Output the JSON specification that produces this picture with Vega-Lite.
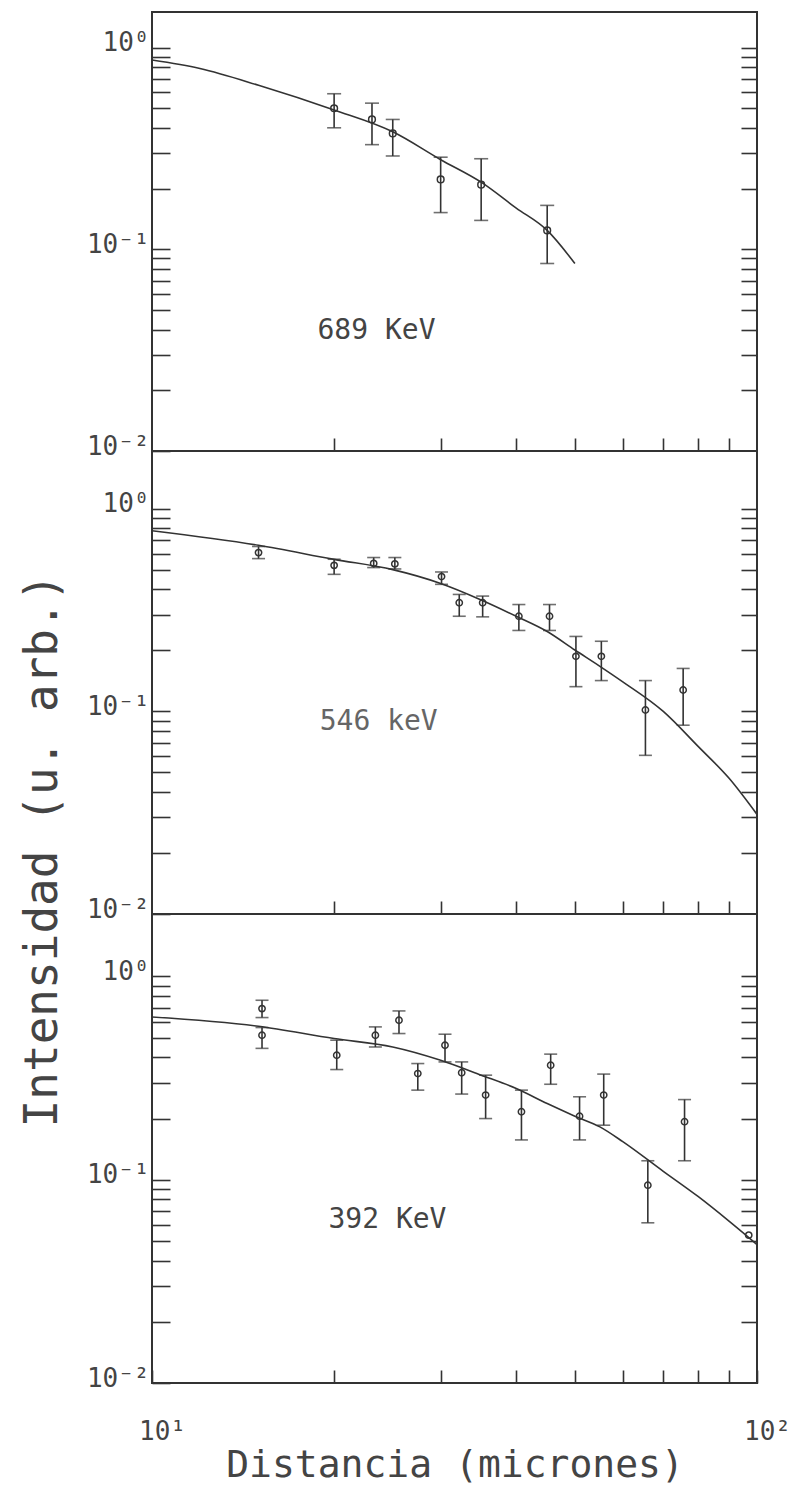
{
  "$schema": "https://vega.github.io/schema/vega-lite/v6.json",
  "background": "white",
  "padding": {"left": 18, "top": 11, "right": 10, "bottom": 2},
  "spacing": 0,
  "bounds": "flush",
  "config": {
    "view": {"stroke": "#333", "strokeWidth": 2},
    "font": "DejaVu Sans Mono"
  },
  "datasets": {
    "pts": [
      {"panel": "689", "x": 20.0, "c": 0.50, "lo": 0.40, "hi": 0.59},
      {"panel": "689", "x": 23.1, "c": 0.44, "lo": 0.33, "hi": 0.53},
      {"panel": "689", "x": 25.0, "c": 0.375, "lo": 0.29, "hi": 0.44},
      {"panel": "689", "x": 30.0, "c": 0.222, "lo": 0.152, "hi": 0.286},
      {"panel": "689", "x": 35.0, "c": 0.209, "lo": 0.139, "hi": 0.281},
      {"panel": "689", "x": 45.0, "c": 0.124, "lo": 0.085, "hi": 0.165},
      {"panel": "546", "x": 15.0, "c": 0.608, "lo": 0.568, "hi": 0.652},
      {"panel": "546", "x": 20.0, "c": 0.526, "lo": 0.475, "hi": 0.564},
      {"panel": "546", "x": 23.25, "c": 0.538, "lo": 0.513, "hi": 0.575},
      {"panel": "546", "x": 25.2, "c": 0.535, "lo": 0.505, "hi": 0.575},
      {"panel": "546", "x": 30.1, "c": 0.463, "lo": 0.424, "hi": 0.488},
      {"panel": "546", "x": 32.2, "c": 0.344, "lo": 0.295, "hi": 0.378},
      {"panel": "546", "x": 35.2, "c": 0.344, "lo": 0.293, "hi": 0.371},
      {"panel": "546", "x": 40.4, "c": 0.295, "lo": 0.251, "hi": 0.337},
      {"panel": "546", "x": 45.4, "c": 0.295, "lo": 0.251, "hi": 0.337},
      {"panel": "546", "x": 50.2, "c": 0.187, "lo": 0.1325, "hi": 0.2345},
      {"panel": "546", "x": 55.3, "c": 0.187, "lo": 0.142, "hi": 0.222},
      {"panel": "546", "x": 65.4, "c": 0.1016, "lo": 0.0607, "hi": 0.142},
      {"panel": "546", "x": 75.5, "c": 0.1276, "lo": 0.0855, "hi": 0.163},
      {"panel": "392", "x": 15.2, "c": 0.695, "lo": 0.628, "hi": 0.764},
      {"panel": "392", "x": 15.2, "c": 0.514, "lo": 0.443, "hi": 0.561},
      {"panel": "392", "x": 20.2, "c": 0.41, "lo": 0.3485, "hi": 0.486},
      {"panel": "392", "x": 23.4, "c": 0.514, "lo": 0.45, "hi": 0.565},
      {"panel": "392", "x": 25.6, "c": 0.609, "lo": 0.524, "hi": 0.677},
      {"panel": "392", "x": 27.5, "c": 0.333, "lo": 0.276, "hi": 0.373},
      {"panel": "392", "x": 30.5, "c": 0.459, "lo": 0.38, "hi": 0.52},
      {"panel": "392", "x": 32.5, "c": 0.336, "lo": 0.264, "hi": 0.38},
      {"panel": "392", "x": 35.6, "c": 0.261, "lo": 0.2, "hi": 0.327},
      {"panel": "392", "x": 40.8, "c": 0.216, "lo": 0.157, "hi": 0.276},
      {"panel": "392", "x": 45.6, "c": 0.366, "lo": 0.295, "hi": 0.415},
      {"panel": "392", "x": 50.9, "c": 0.2055, "lo": 0.157, "hi": 0.256},
      {"panel": "392", "x": 55.8, "c": 0.261, "lo": 0.1855, "hi": 0.331},
      {"panel": "392", "x": 66.0, "c": 0.094, "lo": 0.0614, "hi": 0.124},
      {"panel": "392", "x": 75.9, "c": 0.193, "lo": 0.124, "hi": 0.248},
      {"panel": "392", "x": 96.9, "c": 0.0534, "lo": null, "hi": null}
    ],
    "fit": [
      {"panel": "689", "x": 10, "y": 0.867},
      {"panel": "689", "x": 12, "y": 0.787},
      {"panel": "689", "x": 15, "y": 0.65},
      {"panel": "689", "x": 20, "y": 0.49},
      {"panel": "689", "x": 25, "y": 0.382},
      {"panel": "689", "x": 30, "y": 0.278},
      {"panel": "689", "x": 35, "y": 0.215},
      {"panel": "689", "x": 40, "y": 0.16},
      {"panel": "689", "x": 45, "y": 0.124},
      {"panel": "689", "x": 50, "y": 0.085},
      {"panel": "546", "x": 10, "y": 0.78},
      {"panel": "546", "x": 15, "y": 0.661},
      {"panel": "546", "x": 20, "y": 0.563},
      {"panel": "546", "x": 25, "y": 0.501},
      {"panel": "546", "x": 30, "y": 0.428},
      {"panel": "546", "x": 35, "y": 0.355},
      {"panel": "546", "x": 40, "y": 0.295},
      {"panel": "546", "x": 45, "y": 0.248},
      {"panel": "546", "x": 50, "y": 0.201},
      {"panel": "546", "x": 55, "y": 0.167},
      {"panel": "546", "x": 60, "y": 0.14},
      {"panel": "546", "x": 70, "y": 0.1},
      {"panel": "546", "x": 80, "y": 0.067},
      {"panel": "546", "x": 90, "y": 0.0466},
      {"panel": "546", "x": 100, "y": 0.031},
      {"panel": "392", "x": 10, "y": 0.632},
      {"panel": "392", "x": 15, "y": 0.569},
      {"panel": "392", "x": 20, "y": 0.495},
      {"panel": "392", "x": 25, "y": 0.45},
      {"panel": "392", "x": 30, "y": 0.387},
      {"panel": "392", "x": 35, "y": 0.327},
      {"panel": "392", "x": 40, "y": 0.281},
      {"panel": "392", "x": 45, "y": 0.237},
      {"panel": "392", "x": 50, "y": 0.2055},
      {"panel": "392", "x": 55, "y": 0.182},
      {"panel": "392", "x": 60, "y": 0.154},
      {"panel": "392", "x": 70, "y": 0.11},
      {"panel": "392", "x": 80, "y": 0.0825},
      {"panel": "392", "x": 90, "y": 0.0624},
      {"panel": "392", "x": 100, "y": 0.048}
    ],
    "labels": [
      {"panel": "689", "x": 23.5, "y": 0.0394, "text": "689 KeV"},
      {"panel": "546", "x": 23.7, "y": 0.0885, "text": "546 keV"},
      {"panel": "392", "x": 24.5, "y": 0.0633, "text": "392 KeV"}
    ]
  },
  "vconcat": [
    {
      "width": 605,
      "height": 439,
      "resolve": {"axis": {"y": "independent"}},
      "layer": [
        {
          "data": {"name": "fit"},
          "transform": [{"filter": "datum.panel == '689'"}],
          "mark": {"type": "line", "color": "#333", "strokeWidth": 1.6, "interpolate": "monotone", "clip": true},
          "encoding": {
            "x": {"field": "x", "type": "quantitative", "scale": {"type": "log", "domain": [10, 100], "nice": false},
              "axis": {"orient": "bottom", "values": [20, 30, 40, 50, 60, 70, 80, 90], "offset": -13, "tickSize": 13, "tickColor": "#333", "tickWidth": 1.6, "labels": false, "domain": false, "grid": false, "title": null}},
            "y": {"field": "y", "type": "quantitative", "scale": {"type": "log", "domain": [0.01, 1.5], "nice": false},
              "axis": {"orient": "left", "values": [0.01, 0.02, 0.03, 0.04, 0.05, 0.06, 0.07, 0.08, 0.09, 0.1, 0.2, 0.3, 0.4, 0.5, 0.6, 0.7, 0.8, 0.9, 1],
                "labelExpr": "datum.value == 1 ? '10⁰' : datum.value == 0.1 ? '10⁻¹' : datum.value == 0.01 ? '10⁻²' : ''",
                "offset": -18, "tickSize": 18, "tickColor": "#333", "tickWidth": 1.6, "domain": false, "grid": false, "labelPadding": 3,
                "labelFont": "DejaVu Sans Mono", "labelFontSize": 26, "labelColor": "#444", "labelBaseline": "alphabetic", "labelOffset": 3, "labelOverlap": false, "labelBound": false, "labelFlush": false, "title": null}}
          }
        },
        {
          "data": {"name": "pts"},
          "transform": [{"filter": "datum.panel == '689' && datum.lo != null"}],
          "mark": {"type": "rule", "color": "#333", "strokeWidth": 1.6},
          "encoding": {
            "x": {"field": "x", "type": "quantitative", "scale": {"type": "log", "domain": [10, 100], "nice": false}},
            "y": {"field": "lo", "type": "quantitative", "scale": {"type": "log", "domain": [0.01, 1.5], "nice": false}, "axis": null},
            "y2": {"field": "hi"}
          }
        },
        {
          "data": {"name": "pts"},
          "transform": [{"filter": "datum.panel == '689' && datum.lo != null"}],
          "mark": {"type": "tick", "orient": "horizontal", "color": "#333", "thickness": 1.6, "size": 14},
          "encoding": {
            "x": {"field": "x", "type": "quantitative", "scale": {"type": "log", "domain": [10, 100], "nice": false}},
            "y": {"field": "lo", "type": "quantitative", "scale": {"type": "log", "domain": [0.01, 1.5], "nice": false}, "axis": null}
          }
        },
        {
          "data": {"name": "pts"},
          "transform": [{"filter": "datum.panel == '689' && datum.lo != null"}],
          "mark": {"type": "tick", "orient": "horizontal", "color": "#333", "thickness": 1.6, "size": 14},
          "encoding": {
            "x": {"field": "x", "type": "quantitative", "scale": {"type": "log", "domain": [10, 100], "nice": false}},
            "y": {"field": "hi", "type": "quantitative", "scale": {"type": "log", "domain": [0.01, 1.5], "nice": false}, "axis": null}
          }
        },
        {
          "data": {"name": "pts"},
          "transform": [{"filter": "datum.panel == '689'"}],
          "mark": {"type": "point", "shape": "circle", "filled": false, "color": "#333", "strokeWidth": 1.5, "size": 45, "opacity": 1},
          "encoding": {
            "x": {"field": "x", "type": "quantitative", "scale": {"type": "log", "domain": [10, 100], "nice": false}},
            "y": {"field": "c", "type": "quantitative", "scale": {"type": "log", "domain": [0.01, 1.5], "nice": false},
              "axis": {"orient": "right", "values": [0.02, 0.03, 0.04, 0.05, 0.06, 0.07, 0.08, 0.09, 0.1, 0.2, 0.3, 0.4, 0.5, 0.6, 0.7, 0.8, 0.9, 1],
                "offset": -16, "tickSize": 16, "tickColor": "#333", "tickWidth": 1.6, "labels": false, "domain": false, "grid": false, "title": null}}
          }
        },
        {
          "data": {"name": "labels"},
          "transform": [{"filter": "datum.panel == '689'"}],
          "mark": {"type": "text", "font": "DejaVu Sans Mono", "fontSize": 28, "color": "#444", "align": "center", "baseline": "middle"},
          "encoding": {
            "x": {"field": "x", "type": "quantitative", "scale": {"type": "log", "domain": [10, 100], "nice": false}},
            "y": {"field": "y", "type": "quantitative", "scale": {"type": "log", "domain": [0.01, 1.5], "nice": false}, "axis": null},
            "text": {"field": "text"}
          }
        }
      ]
    },
    {
      "width": 605,
      "height": 463,
      "resolve": {"axis": {"y": "independent"}},
      "layer": [
        {
          "data": {"name": "fit"},
          "transform": [{"filter": "datum.panel == '546'"}],
          "mark": {"type": "line", "color": "#333", "strokeWidth": 1.6, "interpolate": "monotone", "clip": true},
          "encoding": {
            "x": {"field": "x", "type": "quantitative", "scale": {"type": "log", "domain": [10, 100], "nice": false},
              "axis": {"orient": "bottom", "values": [20, 30, 40, 50, 60, 70, 80, 90], "offset": -13, "tickSize": 13, "tickColor": "#333", "tickWidth": 1.6, "labels": false, "domain": false, "grid": false, "title": null}},
            "y": {"field": "y", "type": "quantitative", "scale": {"type": "log", "domain": [0.01, 1.93], "nice": false},
              "axis": {"orient": "left", "values": [0.01, 0.02, 0.03, 0.04, 0.05, 0.06, 0.07, 0.08, 0.09, 0.1, 0.2, 0.3, 0.4, 0.5, 0.6, 0.7, 0.8, 0.9, 1],
                "labelExpr": "datum.value == 1 ? '10⁰' : datum.value == 0.1 ? '10⁻¹' : datum.value == 0.01 ? '10⁻²' : ''",
                "offset": -18, "tickSize": 18, "tickColor": "#333", "tickWidth": 1.6, "domain": false, "grid": false, "labelPadding": 3,
                "labelFont": "DejaVu Sans Mono", "labelFontSize": 26, "labelColor": "#444", "labelBaseline": "alphabetic", "labelOffset": 3, "labelOverlap": false, "labelBound": false, "labelFlush": false,
                "title": "Intensidad (u. arb.)", "titleFont": "DejaVu Sans Mono", "titleFontSize": 46, "titleFontWeight": "normal", "titleColor": "#444",
                "titleX": -128, "titleY": 399, "titleAngle": 270, "titleAlign": "center", "titleBaseline": "middle"}}
          }
        },
        {
          "data": {"name": "pts"},
          "transform": [{"filter": "datum.panel == '546' && datum.lo != null"}],
          "mark": {"type": "rule", "color": "#333", "strokeWidth": 1.6},
          "encoding": {
            "x": {"field": "x", "type": "quantitative", "scale": {"type": "log", "domain": [10, 100], "nice": false}},
            "y": {"field": "lo", "type": "quantitative", "scale": {"type": "log", "domain": [0.01, 1.93], "nice": false}, "axis": null},
            "y2": {"field": "hi"}
          }
        },
        {
          "data": {"name": "pts"},
          "transform": [{"filter": "datum.panel == '546' && datum.lo != null"}],
          "mark": {"type": "tick", "orient": "horizontal", "color": "#333", "thickness": 1.6, "size": 13},
          "encoding": {
            "x": {"field": "x", "type": "quantitative", "scale": {"type": "log", "domain": [10, 100], "nice": false}},
            "y": {"field": "lo", "type": "quantitative", "scale": {"type": "log", "domain": [0.01, 1.93], "nice": false}, "axis": null}
          }
        },
        {
          "data": {"name": "pts"},
          "transform": [{"filter": "datum.panel == '546' && datum.lo != null"}],
          "mark": {"type": "tick", "orient": "horizontal", "color": "#333", "thickness": 1.6, "size": 13},
          "encoding": {
            "x": {"field": "x", "type": "quantitative", "scale": {"type": "log", "domain": [10, 100], "nice": false}},
            "y": {"field": "hi", "type": "quantitative", "scale": {"type": "log", "domain": [0.01, 1.93], "nice": false}, "axis": null}
          }
        },
        {
          "data": {"name": "pts"},
          "transform": [{"filter": "datum.panel == '546'"}],
          "mark": {"type": "point", "shape": "circle", "filled": false, "color": "#333", "strokeWidth": 1.5, "size": 40, "opacity": 1},
          "encoding": {
            "x": {"field": "x", "type": "quantitative", "scale": {"type": "log", "domain": [10, 100], "nice": false}},
            "y": {"field": "c", "type": "quantitative", "scale": {"type": "log", "domain": [0.01, 1.93], "nice": false},
              "axis": {"orient": "right", "values": [0.02, 0.03, 0.04, 0.05, 0.06, 0.07, 0.08, 0.09, 0.1, 0.2, 0.3, 0.4, 0.5, 0.6, 0.7, 0.8, 0.9, 1],
                "offset": -16, "tickSize": 16, "tickColor": "#333", "tickWidth": 1.6, "labels": false, "domain": false, "grid": false, "title": null}}
          }
        },
        {
          "data": {"name": "labels"},
          "transform": [{"filter": "datum.panel == '546'"}],
          "mark": {"type": "text", "font": "DejaVu Sans Mono", "fontSize": 28, "color": "#666", "align": "center", "baseline": "middle"},
          "encoding": {
            "x": {"field": "x", "type": "quantitative", "scale": {"type": "log", "domain": [10, 100], "nice": false}},
            "y": {"field": "y", "type": "quantitative", "scale": {"type": "log", "domain": [0.01, 1.93], "nice": false}, "axis": null},
            "text": {"field": "text"}
          }
        }
      ]
    },
    {
      "width": 605,
      "height": 469,
      "resolve": {"axis": {"y": "independent"}},
      "layer": [
        {
          "data": {"name": "fit"},
          "transform": [{"filter": "datum.panel == '392'"}],
          "mark": {"type": "line", "color": "#333", "strokeWidth": 1.6, "interpolate": "monotone", "clip": true},
          "encoding": {
            "x": {"field": "x", "type": "quantitative", "scale": {"type": "log", "domain": [10, 100], "nice": false},
              "axis": {"orient": "bottom", "values": [10, 20, 30, 40, 50, 60, 70, 80, 90, 100], "offset": -13, "tickSize": 13, "tickColor": "#333", "tickWidth": 1.6, "domain": false, "grid": false,
                "labelExpr": "datum.value == 10 ? '10¹' : datum.value == 100 ? '10²' : ''",
                "labelPadding": 35, "labelFont": "DejaVu Sans Mono", "labelFontSize": 26, "labelColor": "#444", "labelOffset": 10, "labelFlush": false, "labelOverlap": false, "labelBound": false,
                "title": "Distancia (micrones)", "titleFont": "DejaVu Sans Mono", "titleFontSize": 38, "titleFontWeight": "normal", "titleColor": "#444",
                "titleY": 106, "titleBaseline": "alphabetic", "titleAlign": "center"}},
            "y": {"field": "y", "type": "quantitative", "scale": {"type": "log", "domain": [0.01, 2.03], "nice": false},
              "axis": {"orient": "left", "values": [0.01, 0.02, 0.03, 0.04, 0.05, 0.06, 0.07, 0.08, 0.09, 0.1, 0.2, 0.3, 0.4, 0.5, 0.6, 0.7, 0.8, 0.9, 1],
                "labelExpr": "datum.value == 1 ? '10⁰' : datum.value == 0.1 ? '10⁻¹' : datum.value == 0.01 ? '10⁻²' : ''",
                "offset": -18, "tickSize": 18, "tickColor": "#333", "tickWidth": 1.6, "domain": false, "grid": false, "labelPadding": 3,
                "labelFont": "DejaVu Sans Mono", "labelFontSize": 26, "labelColor": "#444", "labelBaseline": "alphabetic", "labelOffset": 3, "labelOverlap": false, "labelBound": false, "labelFlush": false, "title": null}}
          }
        },
        {
          "data": {"name": "pts"},
          "transform": [{"filter": "datum.panel == '392' && datum.lo != null"}],
          "mark": {"type": "rule", "color": "#333", "strokeWidth": 1.6},
          "encoding": {
            "x": {"field": "x", "type": "quantitative", "scale": {"type": "log", "domain": [10, 100], "nice": false}},
            "y": {"field": "lo", "type": "quantitative", "scale": {"type": "log", "domain": [0.01, 2.03], "nice": false}, "axis": null},
            "y2": {"field": "hi"}
          }
        },
        {
          "data": {"name": "pts"},
          "transform": [{"filter": "datum.panel == '392' && datum.lo != null"}],
          "mark": {"type": "tick", "orient": "horizontal", "color": "#333", "thickness": 1.6, "size": 13},
          "encoding": {
            "x": {"field": "x", "type": "quantitative", "scale": {"type": "log", "domain": [10, 100], "nice": false}},
            "y": {"field": "lo", "type": "quantitative", "scale": {"type": "log", "domain": [0.01, 2.03], "nice": false}, "axis": null}
          }
        },
        {
          "data": {"name": "pts"},
          "transform": [{"filter": "datum.panel == '392' && datum.lo != null"}],
          "mark": {"type": "tick", "orient": "horizontal", "color": "#333", "thickness": 1.6, "size": 13},
          "encoding": {
            "x": {"field": "x", "type": "quantitative", "scale": {"type": "log", "domain": [10, 100], "nice": false}},
            "y": {"field": "hi", "type": "quantitative", "scale": {"type": "log", "domain": [0.01, 2.03], "nice": false}, "axis": null}
          }
        },
        {
          "data": {"name": "pts"},
          "transform": [{"filter": "datum.panel == '392'"}],
          "mark": {"type": "point", "shape": "circle", "filled": false, "color": "#333", "strokeWidth": 1.5, "size": 40, "opacity": 1},
          "encoding": {
            "x": {"field": "x", "type": "quantitative", "scale": {"type": "log", "domain": [10, 100], "nice": false}},
            "y": {"field": "c", "type": "quantitative", "scale": {"type": "log", "domain": [0.01, 2.03], "nice": false},
              "axis": {"orient": "right", "values": [0.02, 0.03, 0.04, 0.05, 0.06, 0.07, 0.08, 0.09, 0.1, 0.2, 0.3, 0.4, 0.5, 0.6, 0.7, 0.8, 0.9, 1],
                "offset": -16, "tickSize": 16, "tickColor": "#333", "tickWidth": 1.6, "labels": false, "domain": false, "grid": false, "title": null}}
          }
        },
        {
          "data": {"name": "labels"},
          "transform": [{"filter": "datum.panel == '392'"}],
          "mark": {"type": "text", "font": "DejaVu Sans Mono", "fontSize": 28, "color": "#444", "align": "center", "baseline": "middle"},
          "encoding": {
            "x": {"field": "x", "type": "quantitative", "scale": {"type": "log", "domain": [10, 100], "nice": false}},
            "y": {"field": "y", "type": "quantitative", "scale": {"type": "log", "domain": [0.01, 2.03], "nice": false}, "axis": null},
            "text": {"field": "text"}
          }
        }
      ]
    }
  ]
}
